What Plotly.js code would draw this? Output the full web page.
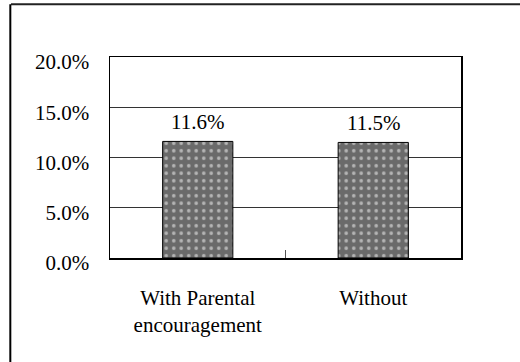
<!DOCTYPE html>
<html>
<head>
<meta charset="utf-8">
<script src="https://cdn.plot.ly/plotly-3.0.1.min.js"></script>
<style>
html,body{margin:0;padding:0;background:#fff;}
#chart{width:520px;height:362px;}
</style>
</head>
<body>
<div id="chart"></div>
<script>
const categories = ["With Parental<br>encouragement", "Without"];
const values = [0.116, 0.115];
const yTickValues = [0, 0.05, 0.10, 0.15, 0.20];

const FONT = "Liberation Serif";
const FS = 21;

const trace = {
  type: "bar",
  x: categories,
  y: values,
  marker: {
    color: "#6e6e6e",
    line: {color: "#000", width: 1},
    pattern: {shape: ".", bgcolor: "#6a6a6a", fgcolor: "#ffffff", size: 7.5, solidity: 0.18, fillmode: "overlay"}
  },
  hoverinfo: "none"
};

const labelAnnotations = categories.map((c, i) => ({
  x: c, y: values[i], xref: "x", yref: "y",
  text: (values[i] * 100).toFixed(1) + "%",
  showarrow: false, yanchor: "bottom", yshift: 5,
  font: {family: FONT, size: FS, color: "#000"}
}));

const layout = {
  width: 520, height: 362,
  margin: {l: 110, r: 59, t: 57, b: 104, pad: 0},
  paper_bgcolor: "#fff", plot_bgcolor: "#fff",
  showlegend: false,
  bargap: 0.6,
  font: {family: FONT, size: FS, color: "#000"},
  xaxis: {
    type: "category",
    showline: true, linecolor: "#000", linewidth: 1.5, mirror: true,
    ticks: "inside", tickson: "boundaries", ticklen: 8, tickcolor: "#555", tickwidth: 1.5,
    showgrid: false, zeroline: false,
    ticklabelstandoff: 20,
    tickfont: {family: FONT, size: FS, color: "#000"}
  },
  yaxis: {
    range: [0, 0.2],
    tickvals: yTickValues,
    tickformat: ".1%",
    showline: true, linecolor: "#000", linewidth: 1.5, mirror: true,
    showgrid: true, gridcolor: "#333", gridwidth: 1,
    zeroline: false, ticks: "",
    ticklabelstandoff: 15,
    ticklabelshift: 5,
    tickfont: {family: FONT, size: FS, color: "#000"}
  },
  annotations: labelAnnotations,
  shapes: [
    {type: "line", xref: "paper", yref: "paper", x0: -0.282, x1: 1.2, y0: 1.263, y1: 1.263, line: {color: "#222", width: 2}},
    {type: "line", xref: "paper", yref: "paper", x0: -0.284, x1: -0.284, y0: 1.263, y1: -0.6, line: {color: "#000", width: 2}}
  ]
};

Plotly.newPlot("chart", [trace], layout, {displayModeBar: false, staticPlot: true});
</script>
</body>
</html>
